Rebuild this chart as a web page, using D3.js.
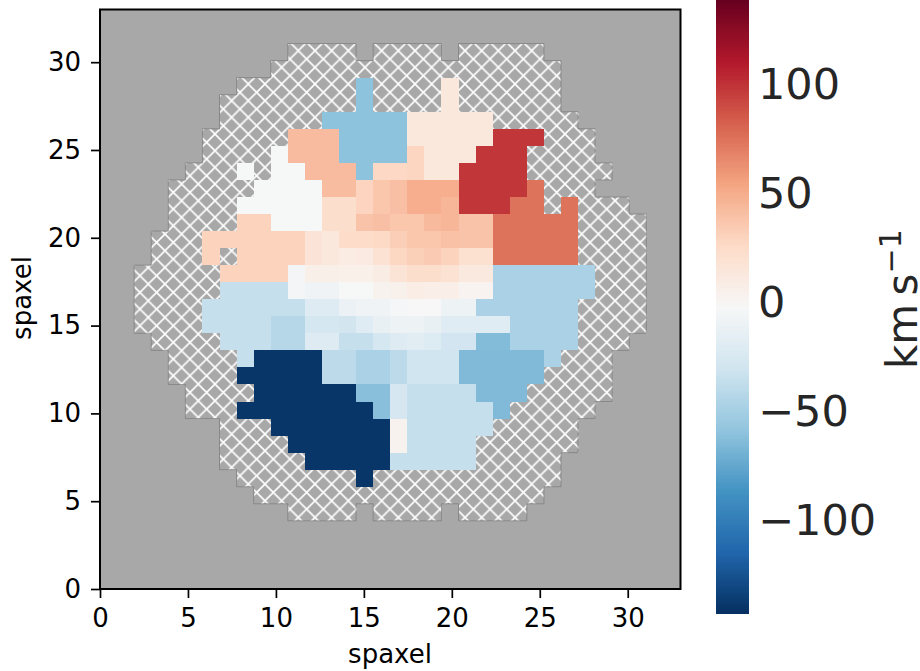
<!DOCTYPE html>
<html>
<head>
<meta charset="UTF-8">
<title>velocity map</title>
<script src="https://cdn.jsdelivr.net/npm/d3@7"></script>
<style>
  html, body { margin: 0; padding: 0; background: #fff; overflow: hidden; }
  svg { display: block; }
  text { font-family: "DejaVu Sans", sans-serif; }
</style>
</head>
<body>
<script>
// o = outside the bundle, h = masked (hatched) spaxel, rows go from top to bottom
const o = null, h = "h";
const blank = d3.range(34).map(() => o);

const velocityRows = [
  blank,
  blank,
  [o,o,o,o,o,o,o,o,o,o,o,h,h,h,h,o,h,h,h,h,o,h,h,h,h,h,o,o,o,o,o,o,o,o],
  [o,o,o,o,o,o,o,o,o,o,h,h,h,h,h,h,h,h,h,h,h,h,h,h,h,h,h,o,o,o,o,o,o,o],
  [o,o,o,o,o,o,o,o,h,h,h,h,h,h,h,-60,h,h,h,h,13,h,h,h,h,h,h,o,o,o,o,o,o,o],
  [o,o,o,o,o,o,o,h,h,h,h,h,h,h,h,-60,h,h,h,h,13,h,h,h,h,h,h,o,o,o,o,o,o,o],
  [o,o,o,o,o,o,o,h,h,h,h,h,h,-60,-60,-60,-60,-60,13,13,13,13,13,h,h,h,h,h,o,o,o,o,o,o],
  [o,o,o,o,o,o,h,h,h,h,h,42,42,42,-60,-60,-60,-60,13,13,13,13,13,98,98,98,h,h,h,o,o,o,o,o],
  [o,o,o,o,o,o,h,h,h,h,-3,42,42,42,-60,-60,-60,-60,28,13,13,13,98,98,98,h,h,h,h,o,o,o,o,o],
  [o,o,o,o,o,h,h,h,-3,h,-3,-3,42,42,42,-60,27,27,28,13,13,98,98,98,98,h,h,h,h,h,o,o,o,o],
  [o,o,o,o,h,h,h,h,h,-3,-3,-3,-3,41,41,29,36,40,49,49,49,98,98,98,98,74,h,h,h,o,o,o,o,o],
  [o,o,o,o,h,h,h,h,-3,-3,-3,-3,-3,22.5,22.5,29,36,40,49,49,45,98,98,98,74,74,h,74,h,h,h,o,o,o],
  [o,o,o,o,h,h,h,h,30,30,-3,-3,-3,22.5,22.5,38,40,36,36,43,45,38,38,74,74,74,74,74,h,h,h,h,o,o],
  [o,o,o,h,h,h,30,30,30,30,30,30,16.5,12.5,24.5,24.5,26,32,36,36,38.5,38,38,74,74,74,74,74,h,h,h,h,o,o],
  [o,o,o,h,h,h,30,h,30,30,30,30,16.5,12.5,9.5,10.5,18.5,27.5,31.5,34,30,19.5,19.5,74,74,74,74,74,h,h,h,h,o,o],
  [o,o,h,h,h,h,h,30,30,30,30,-5.5,5.5,5.5,5,5,8.5,17.5,22.5,22.5,18.5,11.5,11.5,-48,-48,-48,-48,-48,-48,h,h,h,o,o],
  [o,o,h,h,h,h,h,-35.5,-35.5,-35.5,-35.5,-5.5,-8.5,-8.5,-3,-3,2.5,4.5,7.5,6.5,6.5,1.5,1.5,-48,-48,-48,-48,-48,-48,h,h,h,o,o],
  [o,o,h,h,h,h,-35.5,-35.5,-35.5,-35.5,-35.5,-35.5,-21,-21,-11.5,-8.5,-8.5,-4,-2.5,-2.5,-10,-10,-48,-48,-48,-48,-48,-48,h,h,h,h,o,o],
  [o,o,h,h,h,h,-35.5,-35.5,-35.5,-35.5,-42.5,-42.5,-27.5,-27.5,-29,-19.5,-13,-10,-10,-13.5,-19.5,-19.5,-19.5,-19.5,-48,-48,-48,-48,h,h,h,h,o,o],
  [o,o,o,h,h,h,h,-35.5,-35.5,-35.5,-42.5,-42.5,-21,-21,-35.5,-35.5,-27.5,-21,-18,-22,-30,-30,-64,-64,-48,-48,-48,-48,h,h,h,o,o,o],
  [o,o,o,o,h,h,h,h,-35.5,-140,-140,-140,-140,-40,-40,-48,-48,-40,-31,-31,-31,-65,-65,-65,-65,-65,-48,h,h,h,o,o,o,o],
  [o,o,o,o,h,h,h,h,-140,-140,-140,-140,-140,-40,-40,-48,-48,-40,-31,-31,-31,-65,-65,-65,-65,-65,h,h,h,h,o,o,o,o],
  [o,o,o,o,o,h,h,h,h,-140,-140,-140,-140,-140,-140,-62,-62,-27,-36,-36,-36,-36,-65,-65,-65,h,h,h,h,h,o,o,o,o],
  [o,o,o,o,o,h,h,h,-140,-140,-140,-140,-140,-140,-140,-140,-62,-27,-36,-36,-36,-36,-36,-65,h,h,h,h,h,o,o,o,o,o],
  [o,o,o,o,o,o,o,h,h,h,-140,-140,-140,-140,-140,-140,-140,2.5,-36,-36,-36,-36,-36,h,h,h,h,h,o,o,o,o,o,o],
  [o,o,o,o,o,o,o,h,h,h,h,-140,-140,-140,-140,-140,-140,2.5,-36,-36,-36,-36,h,h,h,h,h,h,o,o,o,o,o,o],
  [o,o,o,o,o,o,o,h,h,h,h,h,-140,-140,-140,-140,-140,-36,-36,-36,-36,-36,h,h,h,h,h,o,o,o,o,o,o,o],
  [o,o,o,o,o,o,o,o,h,h,h,h,h,h,h,-140,h,h,h,h,h,h,h,h,h,h,h,o,o,o,o,o,o,o],
  [o,o,o,o,o,o,o,o,o,h,h,h,h,h,h,h,h,h,h,h,h,h,h,h,h,h,o,o,o,o,o,o,o,o],
  [o,o,o,o,o,o,o,o,o,o,o,h,h,h,h,o,h,h,h,h,o,h,h,h,h,o,o,o,o,o,o,o,o,o],
  blank,
  blank,
  blank,
  blank
];

const axisTicks = [0, 5, 10, 15, 20, 25, 30];
const colorbarTicks = [100, 50, 0, -50, -100];
const vMin = -143, vMax = 138;
const rdbuStops = ["#053061", "#2166ac", "#4393c3", "#92c5de", "#d1e5f0", "#f7f7f7",
                   "#fddbc7", "#f4a582", "#d6604d", "#b2182b", "#67001f"];

const width = 920, height = 671;
const left = 100, right = 680.5, top_ = 9.5, bottom = 589;
const gray = "#a8a8a8";

const svg = d3.select("body").append("svg").attr("width", width).attr("height", height);

// colormap
const color = d3.scaleLinear()
  .domain(rdbuStops.map((d, i) => vMin + i * (vMax - vMin) / 10))
  .range(rdbuStops);

// scales
const x = d3.scaleLinear().domain([0, 33]).range([left, right]);
const y = d3.scaleLinear().domain([0, 33]).range([bottom, top_]);
const colX = d3.scaleBand().domain(d3.range(34)).range([left, right]);
const rowY = d3.scaleBand().domain(d3.range(34)).range([top_, bottom]);
const cbarY = d3.scaleLinear().domain([vMin, vMax]).range([613, 0]);

// hatch
const tile = 16.67;
const defs = svg.append("defs");
const hatch = defs.append("pattern")
  .attr("id", "hatch")
  .attr("patternUnits", "userSpaceOnUse")
  .attr("x", 298.3).attr("y", 50.7)
  .attr("width", tile).attr("height", tile);
hatch.append("rect").attr("width", tile).attr("height", tile).attr("fill", gray);
hatch.append("path")
  .attr("d", `M-1,-1L${tile + 1},${tile + 1}M-1,${tile + 1}L${tile + 1},-1`)
  .attr("stroke", "#fff").attr("stroke-width", 1.6).attr("fill", "none");

// background
svg.append("rect")
  .attr("x", left).attr("y", top_)
  .attr("width", right - left).attr("height", bottom - top_)
  .attr("fill", gray);

// cells
const cells = [];
velocityRows.forEach((row, r) => row.forEach((v, c) => {
  if (v !== o) cells.push({ r, c, v });
}));

svg.append("g").attr("shape-rendering", "crispEdges")
  .selectAll("rect")
  .data(cells)
  .enter()
  .append("rect")
  .attr("x", d => colX(d.c))
  .attr("y", d => rowY(d.r))
  .attr("width", colX.bandwidth() + 0.5)
  .attr("height", rowY.bandwidth() + 0.5)
  .attr("fill", d => d.v === h ? "url(#hatch)" : color(d.v));

// thin outline where the hatching meets the empty background
const edges = [];
cells.filter(d => d.v === h).forEach(d => {
  const x0 = colX(d.c), x1 = x0 + colX.bandwidth();
  const y0 = rowY(d.r), y1 = y0 + rowY.bandwidth();
  if (velocityRows[d.r - 1][d.c] === o) edges.push([x0, y0, x1, y0]);
  if (velocityRows[d.r + 1][d.c] === o) edges.push([x0, y1, x1, y1]);
  if (velocityRows[d.r][d.c - 1] === o) edges.push([x0, y0, x0, y1]);
  if (velocityRows[d.r][d.c + 1] === o) edges.push([x1, y0, x1, y1]);
});
svg.append("g").selectAll("line")
  .data(edges)
  .enter()
  .append("line")
  .attr("x1", d => d[0]).attr("y1", d => d[1])
  .attr("x2", d => d[2]).attr("y2", d => d[3])
  .attr("stroke", "#808080").attr("stroke-width", 0.8);

// axes
const xAxis = d3.axisBottom(x).tickValues(axisTicks).tickSize(9).tickSizeOuter(0).tickPadding(11);
const yAxis = d3.axisLeft(y).tickValues(axisTicks).tickSize(9).tickSizeOuter(0).tickPadding(10);

[svg.append("g").attr("transform", `translate(0,${bottom})`).call(xAxis),
 svg.append("g").attr("transform", `translate(${left},0)`).call(yAxis)].forEach(g => {
  g.select(".domain").remove();
  g.selectAll("line").attr("stroke", "#000").attr("stroke-width", 1.7);
  g.selectAll("text").attr("fill", "#000").attr("font-size", 26);
});

// frame
svg.append("rect")
  .attr("x", left).attr("y", top_)
  .attr("width", right - left).attr("height", bottom - top_)
  .attr("fill", "none").attr("stroke", "#000").attr("stroke-width", 2);

svg.append("text")
  .attr("x", 390).attr("y", 663)
  .attr("text-anchor", "middle").attr("font-size", 26)
  .text("spaxel");

svg.append("text")
  .attr("transform", "translate(31,298) rotate(-90)")
  .attr("text-anchor", "middle").attr("font-size", 26)
  .text("spaxel");

// colorbar
const cbarStep = (vMax - vMin) / 256;
const cbarLevels = d3.range(256).map(i => vMin + (i + 0.5) * cbarStep);
svg.append("g").attr("shape-rendering", "crispEdges")
  .selectAll("rect")
  .data(cbarLevels)
  .enter()
  .append("rect")
  .attr("x", 716).attr("width", 33)
  .attr("y", d => cbarY(d + cbarStep / 2))
  .attr("height", d => cbarY(d - cbarStep / 2) - cbarY(d + cbarStep / 2) + 0.5)
  .attr("fill", d => color(d));

svg.append("g").selectAll("text")
  .data(colorbarTicks)
  .enter()
  .append("text")
  .attr("x", 758)
  .attr("y", d => cbarY(d) + 16)
  .attr("font-size", 43)
  .attr("fill", "#262626")
  .text(d => String(d).replace("-", "\u2212"));

const cbarLabel = svg.append("text")
  .attr("transform", "translate(917,369) rotate(-90)")
  .attr("font-size", 42)
  .attr("fill", "#262626");
cbarLabel.append("tspan").text("km\u2009s");
cbarLabel.append("tspan").attr("font-size", 30).attr("dy", -16).text("\u22121");
</script>
</body>
</html>
